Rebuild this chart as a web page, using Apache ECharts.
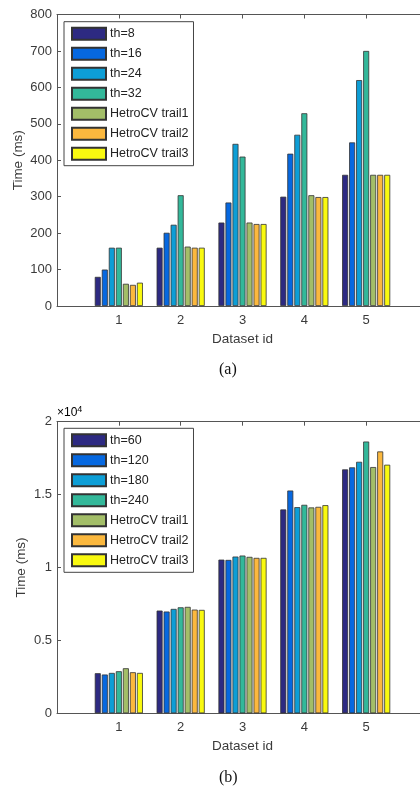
<!DOCTYPE html>
<html>
<head>
<meta charset="utf-8">
<script src="https://cdn.jsdelivr.net/npm/echarts@6/dist/echarts.min.js"></script>
<style>
html,body{margin:0;padding:0;background:#fff;}
#c{width:420px;height:791px;}
</style>
</head>
<body>
<div id="c"></div>
<script>
// ---- data ----
const datasetIds = ['1', '2', '3', '4', '5'];
const namesA = ['th=8', 'th=16', 'th=24', 'th=32', 'HetroCV trail1', 'HetroCV trail2', 'HetroCV trail3'];
const namesB = ['th=60', 'th=120', 'th=180', 'th=240', 'HetroCV trail1', 'HetroCV trail2', 'HetroCV trail3'];
const colors = ['#2d2a82', '#0668e0', '#0d9ed6', '#33b89a', '#a3be68', '#fbb83e', '#f9f910'];

// chart (a): Time (ms)
const a_th8   = [80, 160, 229, 300, 360];
const a_th16  = [100, 201, 284, 418, 449];
const a_th24  = [160, 223, 445, 470, 620];
const a_th32  = [160, 304, 410, 529, 700];
const a_trl1  = [61, 163, 229, 304, 360];
const a_trl2  = [58, 160, 225, 299, 360];
const a_trl3  = [64, 160, 225, 299, 360];

// chart (b): Time (ms)
const b_th60  = [2750, 7045, 10540, 13980, 16730];
const b_th120 = [2660, 6980, 10520, 15280, 16870];
const b_th180 = [2770, 7160, 10750, 14140, 17250];
const b_th240 = [2885, 7270, 10820, 14300, 18640];
const b_trl1  = [3090, 7300, 10730, 14120, 16890];
const b_trl2  = [2817, 7113, 10660, 14160, 17960];
const b_trl3  = [2770, 7093, 10660, 14275, 17050];

const yTicksA = [0, 100, 200, 300, 400, 500, 600, 700, 800];
const yTicksB = [0, 5000, 10000, 15000, 20000];

const seriesA = [a_th8, a_th16, a_th24, a_th32, a_trl1, a_trl2, a_trl3];
const seriesB = [b_th60, b_th120, b_th180, b_th240, b_trl1, b_trl2, b_trl3];

// ---- chart ----
const FONT = 'Liberation Sans, Arial, sans-serif';
const TXT = '#3a3a3a';
const AX = '#555';
const cats = [''].concat(datasetIds).concat(['']);
const pad = arr => [null].concat(arr).concat([null]);

function bottomX(gridIndex) {
  return {
    type: 'category', gridIndex, data: cats, boundaryGap: false, position: 'bottom',
    axisLine: {lineStyle: {color: AX, width: 1}},
    axisTick: {show: false},
    axisLabel: {color: TXT, fontFamily: FONT, fontSize: 13, margin: 8},
    splitLine: {show: false},
    name: 'Dataset id', nameLocation: 'middle', nameGap: 26,
    nameTextStyle: {color: TXT, fontFamily: FONT, fontSize: 13.5}
  };
}
function topX(gridIndex) {
  return {
    type: 'category', gridIndex, data: cats, boundaryGap: false, position: 'top',
    axisLine: {lineStyle: {color: AX, width: 1}},
    axisTick: {show: true, inside: true, length: 4, lineStyle: {color: AX}},
    axisLabel: {show: false}, splitLine: {show: false}
  };
}
function leftY(gridIndex, max, interval, gap, fmt) {
  return {
    type: 'value', gridIndex, min: 0, max, interval,
    axisLine: {show: true, lineStyle: {color: AX, width: 1}},
    axisTick: {show: true, inside: true, length: 4, lineStyle: {color: AX}},
    axisLabel: {color: TXT, fontFamily: FONT, fontSize: 13, margin: 5, formatter: fmt},
    splitLine: {show: false},
    name: 'Time (ms)', nameLocation: 'middle', nameGap: gap, nameMoveOverlap: false,
    nameTextStyle: {color: TXT, fontFamily: FONT, fontSize: 13.5}
  };
}

function mkSeries(names, arrs, xIdx, yIdx) {
  return arrs.map((arr, i) => ({
    type: 'bar', name: names[i], xAxisIndex: xIdx, yAxisIndex: yIdx,
    data: pad(arr), barWidth: 6, barGap: '17%',
    itemStyle: {color: colors[i], borderColor: '#333', borderWidth: 0.8},
    emphasis: {disabled: true}, animation: false
  }));
}

function legend(names, top) {
  return {
    orient: 'vertical', left: 64, top, data: names, icon: 'rect',
    itemWidth: 34, itemHeight: 12, itemGap: 6,
    backgroundColor: '#fff', borderColor: '#444', borderWidth: 1,
    padding: [5, 5, 5, 7],
    textStyle: {color: '#222', fontFamily: FONT, fontSize: 12.5, padding: [0, 0, 0, -1]},
    selectedMode: false
  };
}

const sA = mkSeries(namesA, seriesA, 0, 0);
const sB = mkSeries(namesB, seriesB, 2, 1);

const option = {
  animation: false,
  backgroundColor: '#fff',
  grid: [
    {left: 57, width: 371, top: 14.5, height: 291.5, outerBoundsMode: 'none', containLabel: false},
    {left: 57, width: 371, top: 421.7, height: 291.6, outerBoundsMode: 'none', containLabel: false}
  ],
  xAxis: [bottomX(0), topX(0), bottomX(1), topX(1)],
  yAxis: [
    leftY(0, yTicksA[yTicksA.length - 1], yTicksA[1] - yTicksA[0], 32),
    leftY(1, yTicksB[yTicksB.length - 1], yTicksB[1] - yTicksB[0], 29, v => String(v / 10000))
  ],
  legend: [legend(namesA, 21.7), legend(namesB, 428.3)],
  series: sA.concat(sB),
  graphic: [
    {type: 'text', left: 219, top: 362, style: {text: '(a)', font: '16px "Liberation Serif", "DejaVu Serif", serif', fill: '#111'}},
    {type: 'text', left: 219, top: 770, style: {text: '(b)', font: '16px "Liberation Serif", "DejaVu Serif", serif', fill: '#111'}},
    {type: 'text', left: 57, top: 405, style: {
      text: '{a|×10}{s|4}',
      rich: {
        a: {fontFamily: FONT, fontSize: 12, color: TXT},
        s: {fontFamily: FONT, fontSize: 9, color: TXT, verticalAlign: 'top', padding: [0, 0, 6, 0]}
      }
    }}
  ]
};

const chart = echarts.init(document.getElementById('c'), null, {renderer: 'canvas'});
chart.setOption(option);
</script>
</body>
</html>
